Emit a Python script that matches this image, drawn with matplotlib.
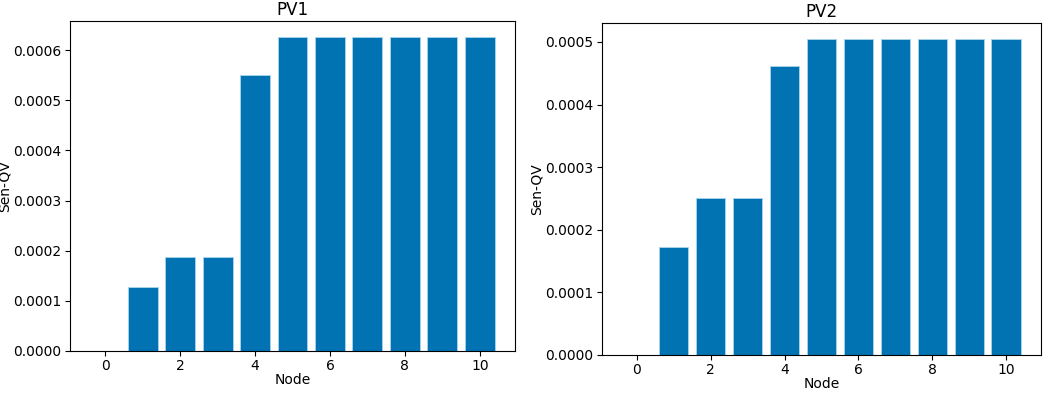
import matplotlib.pyplot as plt

# Valores
nodes = list(range(11))
pv1_sen = [0.0, 0.000127, 0.000187, 0.000187, 0.00055, 0.000627,
           0.000627, 0.000627, 0.000627, 0.000627, 0.000627]
pv2_sen = [0.0, 0.000173, 0.00025, 0.00025, 0.000462, 0.000505,
           0.000505, 0.000505, 0.000505, 0.000505, 0.000505]
titles = ["PV1", "PV2"]

plt.rcParams['font.size'] = 10

fig = plt.figure(figsize=(10.52, 3.93), dpi=100)
ax1 = fig.add_axes([70 / 1052, 1 - 351 / 393, 445 / 1052, 330 / 393])
ax2 = fig.add_axes([602 / 1052, 1 - 355 / 393, 439 / 1052, 332 / 393])

for ax, vals, title in zip([ax1, ax2], [pv1_sen, pv2_sen], titles):
    ax.bar(nodes, vals, color='#0173b2', edgecolor='#a9d4ee', linewidth=0.6)
    ax.set_title(title, pad=4)
    ax.set_xlabel("Node", labelpad=0)
    ax.set_ylabel("Sen-QV", labelpad=1)
    ax.set_xticks([0, 2, 4, 6, 8, 10])
    ax.tick_params(axis='y', pad=2.5)
    ax.tick_params(axis='x', pad=2.5)
    ax.yaxis.set_major_formatter(plt.FormatStrFormatter('%.4f'))

fig.savefig("out.png", dpi=100)
